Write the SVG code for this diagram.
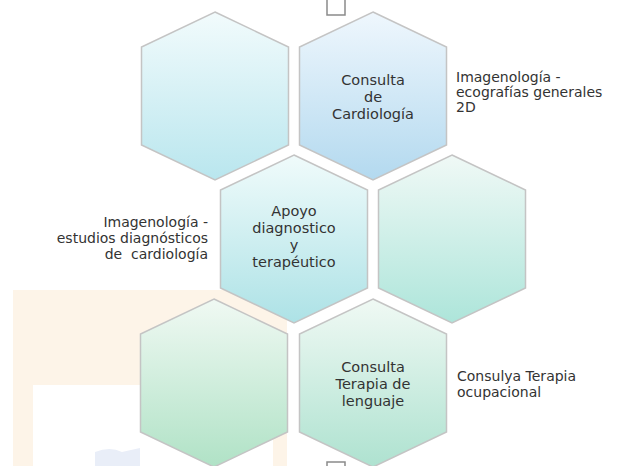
<svg xmlns="http://www.w3.org/2000/svg" width="618" height="466" viewBox="0 0 618 466">
<defs>
<linearGradient id="g1" x1="0" y1="0" x2="0" y2="1"><stop offset="0" stop-color="#f2fbfc"/><stop offset="1" stop-color="#b9e6ee"/></linearGradient>
<linearGradient id="g2" x1="0" y1="0" x2="0" y2="1"><stop offset="0" stop-color="#eff7fd"/><stop offset="1" stop-color="#b3d9ef"/></linearGradient>
<linearGradient id="g3" x1="0" y1="0" x2="0" y2="1"><stop offset="0" stop-color="#f0fbfb"/><stop offset="1" stop-color="#ade2e6"/></linearGradient>
<linearGradient id="g4" x1="0" y1="0" x2="0" y2="1"><stop offset="0" stop-color="#f0f9f6"/><stop offset="1" stop-color="#ade5da"/></linearGradient>
<linearGradient id="g5" x1="0" y1="0" x2="0" y2="1"><stop offset="0" stop-color="#f0f9f3"/><stop offset="1" stop-color="#b0e2c6"/></linearGradient>
<linearGradient id="g6" x1="0" y1="0" x2="0" y2="1"><stop offset="0" stop-color="#f0f9f4"/><stop offset="1" stop-color="#aee2d0"/></linearGradient>
<polygon id="hex" points="0,-84 73.5,-49 73.5,49 0,84 -73.5,49 -73.5,-49"/>
</defs>
<style>
.hx{stroke:#c4c4c4;stroke-width:1.5}
.t{font-family:"DejaVu Sans","Liberation Sans",sans-serif;font-size:14px;fill:#333333;white-space:pre}
.c{text-anchor:middle;font-size:14.5px}
.r{text-anchor:end}
.sq{fill:#ffffff;stroke:#8a8a8a;stroke-width:1.5}
</style>
<rect width="618" height="466" fill="#ffffff"/>
<g id="background">
<rect x="13" y="290" width="274" height="176" fill="#fdf4e8"/>
<rect x="33" y="385" width="240" height="81" fill="#ffffff"/>
<path d="M95,452 Q110,446 122,452 L140,448 L140,466 L95,466 Z" fill="#e9eef8"/>
</g>
<g id="markers">
<rect class="sq" x="327" y="-6" width="18" height="21"/>
<rect class="sq" x="327" y="462" width="18" height="10"/>
</g>
<g id="connectors"></g>
<g id="hex1"><use href="#hex" x="215" y="96" class="hx" fill="url(#g1)"/></g>
<g id="hex2"><use href="#hex" x="373" y="96" class="hx" fill="url(#g2)"/>
<text class="t c" x="373" y="85">Consulta</text>
<text class="t c" x="373" y="102">de</text>
<text class="t c" x="373" y="119">Cardiología</text></g>
<g id="hex3"><use href="#hex" x="294" y="239" class="hx" fill="url(#g3)"/>
<text class="t c" x="294" y="216">Apoyo</text>
<text class="t c" x="294" y="233">diagnostico</text>
<text class="t c" x="294" y="250">y</text>
<text class="t c" x="294" y="267">terapéutico</text></g>
<g id="hex4"><use href="#hex" x="452" y="239" class="hx" fill="url(#g4)"/></g>
<g id="hex5"><use href="#hex" x="214" y="383" class="hx" fill="url(#g5)"/></g>
<g id="hex6"><use href="#hex" x="373" y="383" class="hx" fill="url(#g6)"/>
<text class="t c" x="373" y="372">Consulta</text>
<text class="t c" x="373" y="389">Terapia de</text>
<text class="t c" x="373" y="406">lenguaje</text></g>
<g id="label-top-right">
<text class="t" x="456" y="82">Imagenología -</text>
<text class="t" x="456" y="97">ecografías generales</text>
<text class="t" x="456" y="112">2D</text></g>
<g id="label-mid-left">
<text class="t r" x="208" y="227">Imagenología -</text>
<text class="t r" x="208" y="243">estudios diagnósticos</text>
<text class="t r" x="208" y="259">de  cardiología</text></g>
<g id="label-bottom-right">
<text class="t" x="457" y="381">Consulya Terapia</text>
<text class="t" x="457" y="397">ocupacional</text></g>
</svg>
